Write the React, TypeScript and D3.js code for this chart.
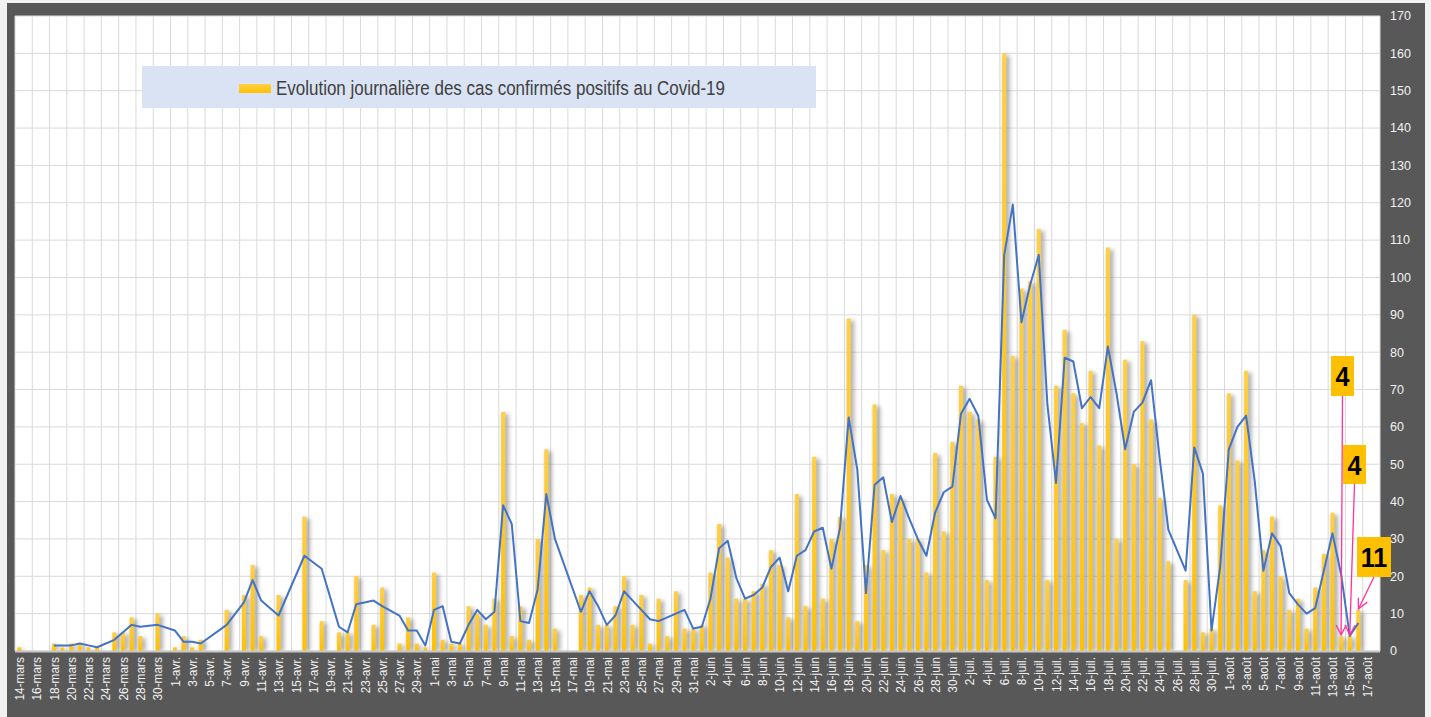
import React from 'react';
import * as d3 from 'd3';

// ---------- data ----------
const START_DATE = new Date(2020, 2, 14); // 14-mars
const DAY_COUNT = 158; // 14-mars .. 18-août
const MONTHS_FR = ['janv.', 'févr.', 'mars', 'avr.', 'mai', 'juin', 'juil.', 'août', 'sept.', 'oct.', 'nov.', 'déc.'];

// daily confirmed cases (null = no report that day)
const CASES: (number | null)[] = [
  // mars 14..31
  1, null, null, null, 2, 1, 2, 2, 1, 1, null, 5, 5, 9, 4, null, 10, null,
  // avril 1..30
  1, 4, 1, 3, null, null, 11, null, 15, 23, 4, null, 15, null, null, 36, null, 8, null, 5,
  5, 20, null, 7, 17, null, 2, 9, 2, 1,
  // mai 1..31
  21, 3, 2, 2, 12, 10, 7, 14, 64, 4, 12, 3, 30, 54, 6, null, null, 15, 17, 7,
  7, 12, 20, 7, 15, 2, 14, 4, 16, 6, 6,
  // juin 1..30
  7, 21, 34, 25, 14, 14, 16, 18, 27, 23, 9, 42, 12, 52, 14, 30, 36, 89, 8, 23,
  66, 27, 42, 41, 30, 30, 21, 53, 32, 56,
  // juillet 1..31
  71, 64, 62, 19, 52, 160, 79, 97, 99, 113, 19, 71, 86, 69, 61, 75, 55, 108, 30, 78,
  50, 83, 62, 41, 24, null, 19, 90, 5, 6, 39,
  // août 1..18
  69, 51, 75, 16, 27, 36, 20, 11, 14, 6, 17, 26, 37, 4, 4, 11, null, null,
];

const Y_TICKS = [0, 10, 20, 30, 40, 50, 60, 70, 80, 90, 100, 110, 120, 130, 140, 150, 160, 170];
const LEGEND_LABEL = 'Evolution journalière des cas confirmés positifs au Covid-19';
const CALLOUT_LABELS = ['4', '4', '11'];
const CALLOUT_DAYS = [153, 154, 155];

// ---------- layout ----------
const W = 1431;
const H = 717;
const PLOT = { left: 15, right: 1380, top: 16, bottom: 651 };
const CALLOUT_BOXES = [
  { x: 1331, y: 356, w: 23, h: 40 },
  { x: 1343, y: 445, w: 23, h: 39 },
  { x: 1357, y: 537, w: 34, h: 40 },
];

function dayLabel(i: number): string {
  const d = d3.timeDay.offset(START_DATE, i);
  return `${d.getDate()}-${MONTHS_FR[d.getMonth()]}`;
}

export default function App() {
  const days = d3.range(DAY_COUNT);
  const x = d3.scaleBand<number>().domain(days).range([PLOT.left, PLOT.right]).padding(0);
  const y = d3.scaleLinear().domain([0, 170]).range([PLOT.bottom, PLOT.top]);
  const bw = x.bandwidth();
  const cx = (i: number) => (x(i) as number) + bw / 2;
  const barW = 4;

  const reported = days.filter((i) => CASES[i] != null).map((i) => ({ i, v: CASES[i] as number }));
  // 2-period moving average trendline over reported points
  const trend = reported.slice(1).map((d, k) => ({ i: d.i, v: (d.v + reported[k].v) / 2 }));
  const linePath = d3
    .line<{ i: number; v: number }>()
    .x((d) => cx(d.i))
    .y((d) => y(d.v))(trend) as string;

  const vGrid = d3.range(0, DAY_COUNT + 1, 2).map((k) => PLOT.left + k * bw);
  const labelDays = days.filter((i) => i % 2 === 0 && i <= 156);

  const font = "'Liberation Sans', Arial, sans-serif";

  return (
    <svg
      width={W}
      height={H}
      style={{ position: 'absolute', left: 0, top: 0, background: '#f2f2f2' }}
      xmlns="http://www.w3.org/2000/svg"
    >
      <defs>
        <linearGradient id="barGrad" x1="0" y1="0" x2="0" y2="1">
          <stop offset="0" stopColor="#FFCF45" />
          <stop offset="1" stopColor="#FFC000" />
        </linearGradient>
        <filter id="shadowBlur" x="-50%" y="-10%" width="200%" height="120%">
          <feGaussianBlur stdDeviation="2.2" />
        </filter>
        <marker id="arrowHead" viewBox="0 0 12 12" refX="11" refY="6" markerWidth="12" markerHeight="12" markerUnits="userSpaceOnUse" orient="auto">
          <path d="M1,1 L11,6 L1,11" fill="none" stroke="#FF3399" strokeWidth="1.3" />
        </marker>
      </defs>

      {/* dark frame */}
      <rect x={7} y={3} width={1418} height={H - 3} fill="#585858" />
      {/* plot area */}
      <rect x={PLOT.left} y={PLOT.top} width={PLOT.right - PLOT.left} height={PLOT.bottom - PLOT.top} fill="#ffffff" />

      {/* gridlines */}
      <g stroke="#d9d9d9" strokeWidth={1}>
        {Y_TICKS.map((t) => (
          <line key={'h' + t} x1={PLOT.left} x2={PLOT.right} y1={y(t)} y2={y(t)} />
        ))}
        {vGrid.map((gx, k) => (
          <line key={'v' + k} x1={gx} x2={gx} y1={PLOT.top} y2={PLOT.bottom} />
        ))}
      </g>

      {/* bar shadows */}
      <g filter="url(#shadowBlur)" fill="#7c7c7c" opacity={0.6}>
        {reported.map((d) => (
          <rect key={'s' + d.i} x={cx(d.i) - barW / 2 + 1.5} y={y(d.v) + 2} width={barW + 2} height={PLOT.bottom - y(d.v) - 2} />
        ))}
      </g>

      {/* bars */}
      <g fill="url(#barGrad)">
        {reported.map((d) => (
          <rect key={'b' + d.i} x={cx(d.i) - barW / 2} y={y(d.v)} width={barW} height={PLOT.bottom - y(d.v)} />
        ))}
      </g>

      {/* x axis line */}
      <line x1={PLOT.left} x2={PLOT.right} y1={PLOT.bottom + 0.5} y2={PLOT.bottom + 0.5} stroke="#c8c8c8" strokeWidth={2} />

      {/* trend line */}
      <path d={linePath} fill="none" stroke="#4472C4" strokeWidth={2} strokeLinejoin="round" />

      {/* y axis labels (right) */}
      <g fill="#f2f2f2" fontFamily={font} fontSize={12.5}>
        {Y_TICKS.map((t) => (
          <text key={'yl' + t} x={1390} y={y(t)} dy="0.35em">
            {t}
          </text>
        ))}
      </g>

      {/* x axis labels */}
      <g fill="#f2f2f2" fontFamily={font} fontSize={13.5}>
        {labelDays.map((i) => (
          <text
            key={'xl' + i}
            transform={`translate(${cx(i)},${PLOT.bottom + 6}) rotate(-90) scale(0.88,1)`}
            textAnchor="end"
            dy="0.35em"
          >
            {dayLabel(i)}
          </text>
        ))}
      </g>

      {/* legend */}
      <rect x={142} y={66} width={674} height={42} fill="#DAE3F3" />
      <rect x={239} y={84} width={32} height={9} fill="url(#barGrad)" />
      <text
        x={276}
        y={95}
        fontFamily={"'Liberation Sans Narrow', 'Arial Narrow', " + font}
        fontSize={20}
        fill="#404040"
        textLength={449}
        lengthAdjust="spacingAndGlyphs"
      >
        {LEGEND_LABEL}
      </text>

      {/* callouts */}
      {CALLOUT_LABELS.map((lab, k) => {
        const b = CALLOUT_BOXES[k];
        const day = CALLOUT_DAYS[k];
        const v = CASES[day] as number;
        const sx = b.x + b.w / 2;
        const sy = b.y + b.h;
        const tx = cx(day);
        const ty = y(v) - 1;
        return (
          <g key={'c' + k}>
            <line x1={sx} y1={sy} x2={tx} y2={ty} stroke="#FF3399" strokeWidth={1.3} markerEnd="url(#arrowHead)" />
            <rect x={b.x} y={b.y} width={b.w} height={b.h} fill="#FFC000" />
            <text
              x={b.x + b.w / 2}
              y={b.y + b.h / 2}
              dy="0.36em"
              textAnchor="middle"
              fontFamily={font}
              fontWeight="bold"
              fontSize={28}
              fill="#000000"
              transform={`translate(${b.x + b.w / 2},0) scale(0.9,1) translate(${-(b.x + b.w / 2)},0)`}
            >
              {lab}
            </text>
          </g>
        );
      })}
    </svg>
  );
}
